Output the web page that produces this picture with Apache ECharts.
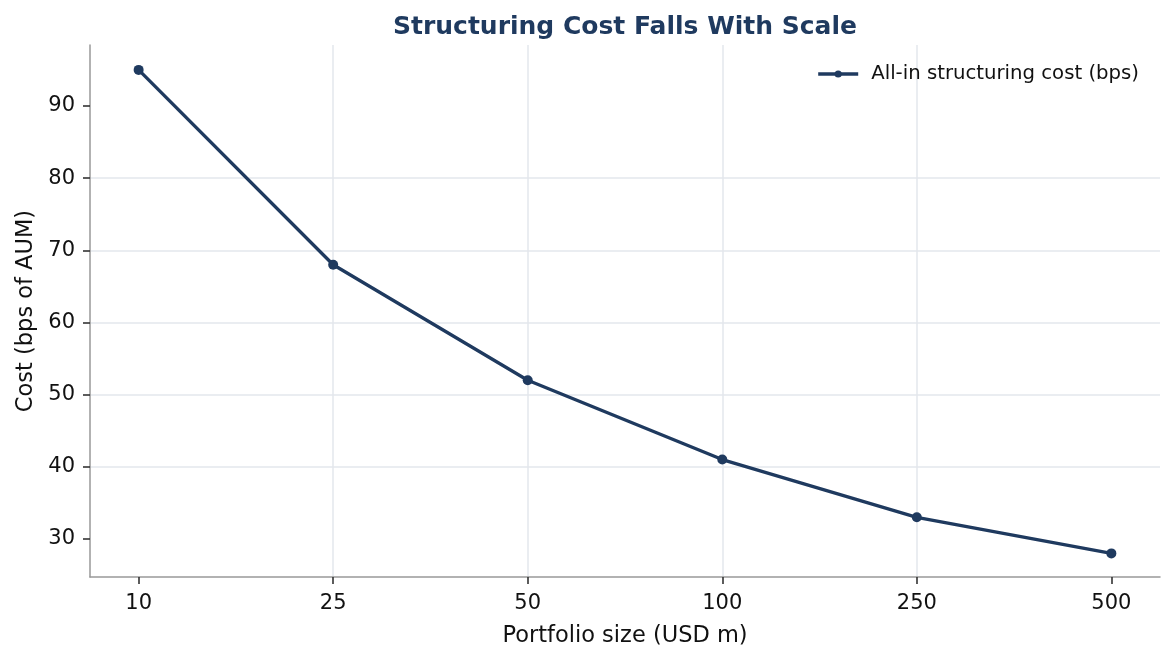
<!DOCTYPE html>
<html>
<head>
<meta charset="utf-8">
<script src="https://cdn.jsdelivr.net/npm/echarts@6/dist/echarts.min.js"></script>
<style>
  html, body { margin: 0; padding: 0; background: #fff; }
  #chart { width: 1174px; height: 661px; }
</style>
</head>
<body>
<div id="chart"></div>
<script>
// portfolio size buckets and cost per bucket
const sizes = ["10", "25", "50", "100", "250", "500"];
const costBps = [95, 68, 52, 41, 33, 28];
const yTicks = [30, 40, 50, 60, 70, 80, 90];

const navy = "#1f3a5f";
const font = "DejaVu Sans";
const gridColor = "#e3e7ed";

let myChart = echarts.init(document.getElementById("chart"));
let option = {
  animation: false,
  textStyle: { fontFamily: font },
  title: {
    text: "Structuring Cost Falls With Scale",
    left: 620,
    textAlign: "center",
    top: 10,
    textStyle: { fontSize: 25, fontWeight: "bold", color: navy, fontFamily: font }
  },
  legend: {
    right: 30,
    top: 59,
    itemWidth: 40,
    itemHeight: 9,
    itemGap: 10,
    lineStyle: { width: 3.5, color: navy },
    itemStyle: { color: navy },
    textStyle: { fontSize: 19.7, color: "#111", fontFamily: font, padding: [0, 0, 0, 8] },
    data: ["All-in structuring cost (bps)"]
  },
  grid: { left: 90, right: 14, top: 45, bottom: 84 },
  xAxis: {
    type: "value",
    min: -0.25,
    max: 5.25,
    name: "Portfolio size (USD m)",
    nameLocation: "middle",
    nameGap: 48,
    nameTextStyle: { fontSize: 22.5, color: "#111", fontFamily: font },
    axisLine: { show: true, onZero: false, lineStyle: { color: "#999", width: 1.5 } },
    axisTick: { show: true, length: 7, customValues: sizes.map((s, i) => i), lineStyle: { color: "#333", width: 1.6 } },
    axisLabel: {
      customValues: sizes.map((s, i) => i),
      formatter: v => sizes[Math.round(v)],
      fontSize: 21, color: "#111", margin: 16
    },
    splitLine: { show: true, showMinLine: false, showMaxLine: false, lineStyle: { color: gridColor, width: 1.5 } }
  },
  yAxis: {
    type: "value",
    min: 24.73,
    max: 98.45,
    name: "Cost (bps of AUM)",
    nameLocation: "middle",
    nameGap: 52,
    nameTextStyle: { fontSize: 22.5, color: "#111", fontFamily: font },
    axisLine: { show: true, onZero: false, lineStyle: { color: "#999", width: 1.5 } },
    axisTick: { show: true, length: 7, customValues: yTicks, lineStyle: { color: "#333", width: 1.6 } },
    axisLabel: { customValues: yTicks, fontSize: 21, color: "#111", margin: 15, padding: [6, 0, 0, 0] },
    splitLine: { show: true, showMinLine: false, showMaxLine: false, lineStyle: { color: gridColor, width: 1.5 } }
  },
  series: [
    {
      name: "All-in structuring cost (bps)",
      type: "line",
      data: costBps.map((v, i) => [i, v]),
      symbol: "circle",
      symbolSize: 10,
      lineStyle: { color: navy, width: 3.3 },
      itemStyle: { color: navy }
    }
  ]
};
myChart.setOption(option);
</script>
</body>
</html>
